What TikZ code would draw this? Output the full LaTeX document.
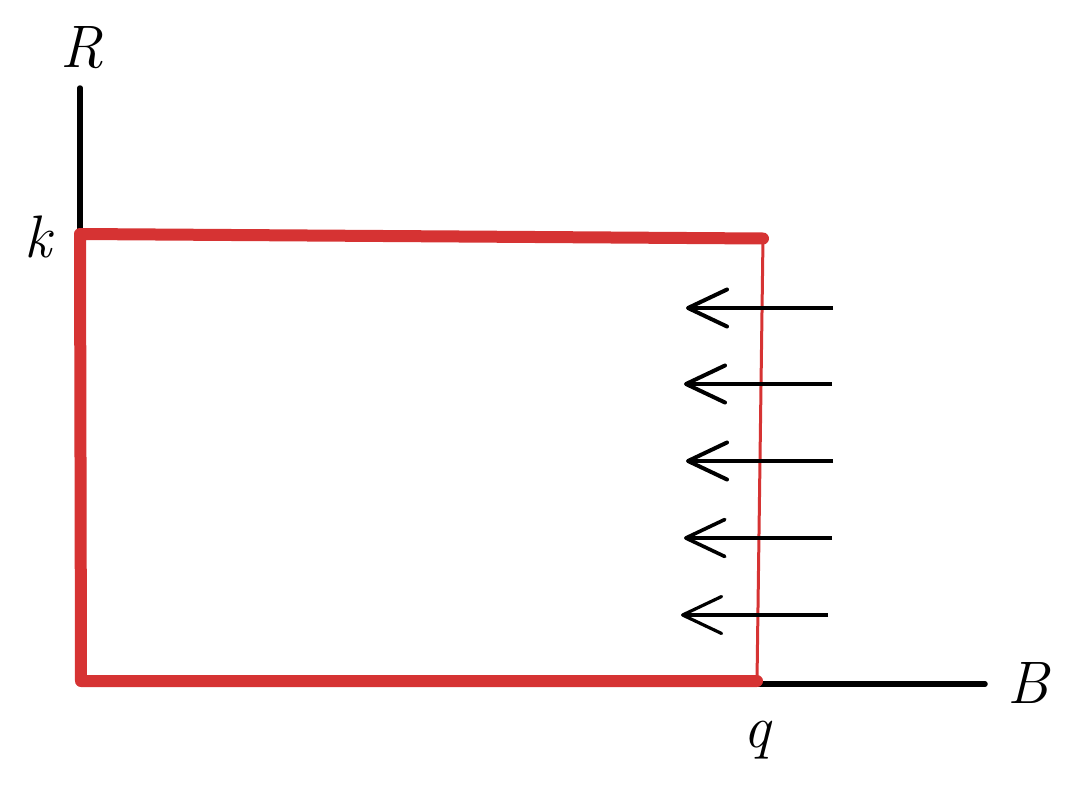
\documentclass[tikz,border=0pt]{standalone}
\usetikzlibrary{arrows.meta}
\definecolor{boxred}{RGB}{214,51,51}
\begin{document}
\begin{tikzpicture}[x=1pt,y=-1pt,
  axis/.style={line width=5.5pt,line cap=round,black},
  redthick/.style={line width=12pt,boxred,line cap=round,line join=round},
  redthin/.style={line width=3pt,boxred,line cap=round},
  flow/.style={line width=4pt,black,-{Straight Barb[length=39pt,width=37pt,line join=round,line cap=round]}},
  lab/.style={font=\fontsize{60}{62}\selectfont\itshape,anchor=base,inner sep=0pt}]
\useasboundingbox (0,0) rectangle (1072,790);
% axes
\coordinate (Rtop) at (80,88);
\coordinate (O) at (80,684);
\coordinate (Bend) at (985,684);
\coordinate (K) at (80,234);
\coordinate (KR) at (763,238.5);
\coordinate (Q) at (757,681);
\coordinate (OB) at (81,681);
\draw[axis] (Rtop) -- (K);
\draw[axis] (Q |- O) -- (Bend);
% red box
\draw[redthin] (KR) -- (Q);
\draw[redthick] (KR) -- (K) -- (OB) -- (Q);
% arrows
\foreach \i/\y/\xs/\xe/\w in {1/308/833/686/4,2/384/832/684/4,3/461/833/686/4,4/538/832/684/3.6,5/615/828/681/3.2}{
  \coordinate (s\i) at (\xs,\y);
  \coordinate (e\i) at (\xe,\y);
  \draw[flow,line width=\w pt] (s\i) -- (e\i);
}
% labels
\node[lab] (lR) at (82,67) {R};
\node[lab] (lk) at (38,257) {k};
\node[lab] (lB) at (1028,703) {B};
\node[lab] (lq) at (757,747) {q};
\end{tikzpicture}
\end{document}
